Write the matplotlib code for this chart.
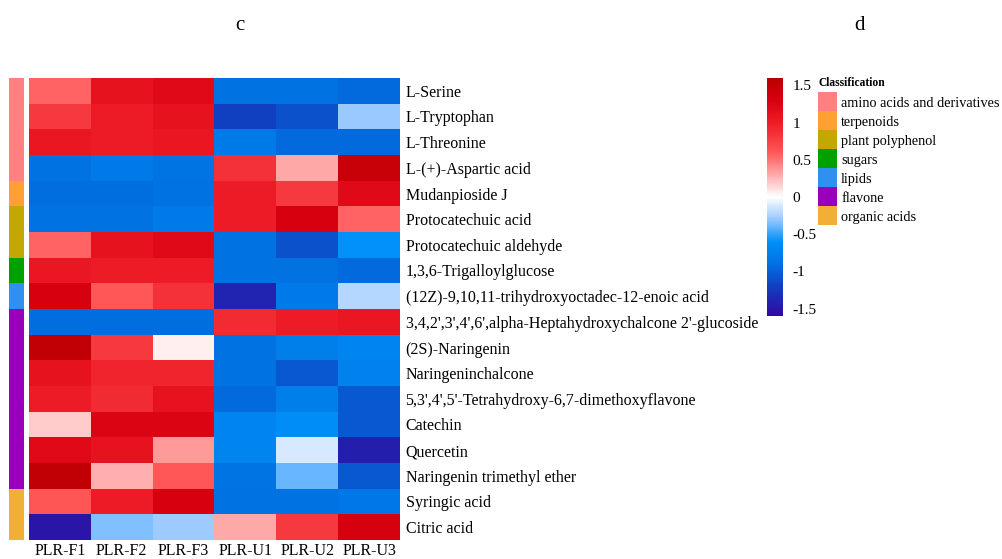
import matplotlib.pyplot as plt
import numpy as np
from matplotlib.colors import LinearSegmentedColormap, ListedColormap

plt.rcParams['font.family'] = ['Liberation Serif', 'DejaVu Serif']

samples = ['PLR-F1', 'PLR-F2', 'PLR-F3', 'PLR-U1', 'PLR-U2', 'PLR-U3']
metabolites = ['L-Serine', 'L-Tryptophan', 'L-Threonine', 'L-(+)-Aspartic acid',
               'Mudanpioside J', 'Protocatechuic acid', 'Protocatechuic aldehyde',
               '1,3,6-Trigalloylglucose', '(12Z)-9,10,11-trihydroxyoctadec-12-enoic acid',
               "3,4,2',3',4',6',alpha-Heptahydroxychalcone 2'-glucoside",
               '(2S)-Naringenin', 'Naringeninchalcone',
               "5,3',4',5'-Tetrahydroxy-6,7-dimethoxyflavone", 'Catechin', 'Quercetin',
               'Naringenin trimethyl ether', 'Syringic acid', 'Citric acid']

# z-scores
values = np.array([
    [0.55, 1.10, 1.20, -0.90, -0.90, -0.95],
    [0.80, 1.00, 1.10, -1.20, -1.10, -0.30],
    [1.05, 1.00, 1.05, -0.82, -0.95, -0.95],
    [-0.90, -0.82, -0.88, 0.85, 0.30, 1.45],
    [-0.92, -0.92, -0.90, 1.00, 0.80, 1.20],
    [-0.90, -0.90, -0.82, 1.00, 1.30, 0.55],
    [0.55, 1.10, 1.20, -0.90, -1.10, -0.60],
    [1.05, 1.00, 1.00, -0.90, -0.90, -0.95],
    [1.30, 0.60, 0.85, -1.40, -0.82, -0.22],
    [-0.92, -0.92, -0.92, 0.90, 1.00, 1.05],
    [1.50, 0.80, 0.06, -0.90, -0.78, -0.72],
    [1.10, 0.95, 0.95, -0.90, -1.05, -0.75],
    [1.00, 0.90, 1.10, -0.95, -0.78, -1.05],
    [0.18, 1.25, 1.25, -0.72, -0.62, -1.05],
    [1.20, 1.10, 0.35, -0.72, -0.12, -1.45],
    [1.50, 0.28, 0.60, -0.88, -0.40, -1.05],
    [0.62, 1.00, 1.30, -0.90, -0.90, -0.85],
    [-1.50, -0.35, -0.28, 0.30, 0.80, 1.30],
])

classes = ['amino acids and derivatives', 'terpenoids', 'plant polyphenol', 'sugars',
           'lipids', 'flavone', 'organic acids']
class_colors = ['#ff8080', '#ffa035', '#c2a800', '#00a000', '#3090f0', '#9900bb', '#f0b035']
row_class = [0, 0, 0, 0, 1, 2, 2, 3, 4, 5, 5, 5, 5, 5, 5, 5, 6, 6]

vlim = 1.6
anchors = [(-1.6, '#3208a0'), (-1.2, '#1040c0'), (-0.9, '#0072e2'), (-0.6, '#0090f8'),
           (-0.3, '#98c8ff'), (0.0, '#ffffff'), (0.3, '#ffaaaa'), (0.6, '#ff5858'),
           (1.0, '#ee1c26'), (1.3, '#d80010'), (1.6, '#b80000')]
cmap = LinearSegmentedColormap.from_list(
    'bwr2', [((v + vlim) / (2 * vlim), c) for v, c in anchors])

fig = plt.figure(figsize=(10.03, 5.59), dpi=100)

ax = fig.add_axes([29 / 1003, 1 - 540 / 559, 371 / 1003, 462 / 559])
mesh = ax.pcolormesh(values, cmap=cmap, vmin=-vlim, vmax=vlim)
ax.set_ylim(len(metabolites), 0)
ax.set_xticks(np.arange(len(samples)) + 0.5)
ax.set_xticklabels(samples, fontsize=11.5)
ax.set_yticks(np.arange(len(metabolites)) + 0.5)
ax.set_yticklabels(metabolites, fontsize=11.5)
ax.yaxis.tick_right()
ax.tick_params(axis='y', length=0, pad=4)
ax.tick_params(axis='x', length=0, pad=2)
for s in ax.spines.values():
    s.set_visible(False)

# classification side bar
ax_c = fig.add_axes([9 / 1003, 1 - 540 / 559, 15 / 1003, 462 / 559])
ax_c.pcolormesh(np.array(row_class)[:, None], cmap=ListedColormap(class_colors),
                vmin=-0.5, vmax=len(classes) - 0.5)
ax_c.set_ylim(len(metabolites), 0)
ax_c.axis('off')

# colorbar
cax = fig.add_axes([767 / 1003, 1 - 316 / 559, 16 / 1003, 238 / 559])
cb = fig.colorbar(mesh, cax=cax)
cb.set_ticks([-1.5, -1, -0.5, 0, 0.5, 1, 1.5])
cb.set_ticklabels(['-1.5', '-1', '-0.5', '0', '0.5', '1', '1.5'])
cb.outline.set_visible(False)
cax.tick_params(length=0, labelsize=11, pad=7)

# classification legend
ax_l = fig.add_axes([818 / 1003, 1 - 225 / 559, 19 / 1003, 133 / 559])
ax_l.pcolormesh(np.arange(len(classes))[:, None], cmap=ListedColormap(class_colors),
                vmin=-0.5, vmax=len(classes) - 0.5)
ax_l.set_ylim(len(classes), 0)
ax_l.set_xticks([])
ax_l.set_yticks(np.arange(len(classes)) + 0.5)
ax_l.set_yticklabels(classes, fontsize=10.3)
ax_l.yaxis.tick_right()
ax_l.tick_params(length=0, pad=3)
for s in ax_l.spines.values():
    s.set_visible(False)
ax_l.set_title('Classification', fontsize=8.3, fontweight='bold', loc='left', pad=4, x=0.05)

fig.text(240 / 1003, 1 - 25 / 559, 'c', fontsize=15, ha='center', va='center')
fig.text(860 / 1003, 1 - 25 / 559, 'd', fontsize=15, ha='center', va='center')

fig.savefig('out.png', dpi=100)
